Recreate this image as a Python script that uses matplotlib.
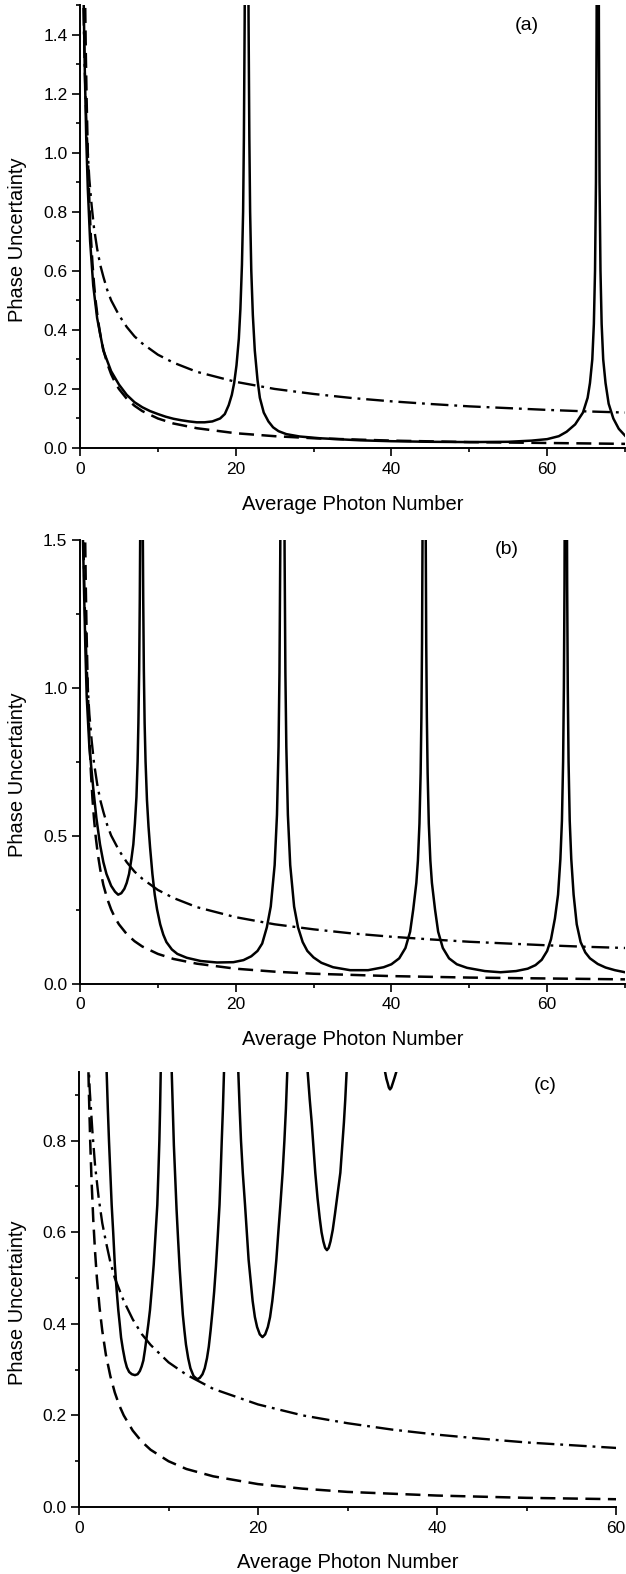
import numpy as np
import matplotlib
matplotlib.use("Agg")
import matplotlib.pyplot as plt
from matplotlib.ticker import MultipleLocator, FormatStrFormatter

plt.rcParams['font.family'] = ['Liberation Sans', 'DejaVu Sans']

# ---- data ----
# shot-noise limit (dash-dot) and Heisenberg limit (dashed), shared by all panels
sql_n = [0.45, 0.52, 0.6, 0.7, 0.8, 0.9, 1.0, 1.2, 1.5, 1.8, 2.2, 2.6, 3, 3.5, 4, 5, 6,
         7, 8, 10, 12, 15, 20, 25, 30, 35, 40, 45, 50, 55, 60, 65, 70]
sql_y = [1.49, 1.39, 1.29, 1.2, 1.12, 1.05, 1.0, 0.91, 0.82, 0.745, 0.675, 0.62, 0.58,
         0.535, 0.5, 0.45, 0.41, 0.378, 0.354, 0.316, 0.289, 0.258, 0.224, 0.2, 0.183,
         0.169, 0.158, 0.149, 0.141, 0.135, 0.129, 0.124, 0.12]
hl_n = [0.67, 0.75, 0.85, 1.0, 1.1, 1.25, 1.4, 1.6, 1.8, 2.0, 2.3, 2.6, 3, 3.5, 4, 4.5,
        5, 6, 7, 8, 10, 12, 15, 20, 25, 30, 40, 50, 60, 70]
hl_y = [1.49, 1.33, 1.18, 1.0, 0.91, 0.8, 0.714, 0.625, 0.556, 0.5, 0.435, 0.385, 0.333,
        0.286, 0.25, 0.222, 0.2, 0.167, 0.143, 0.125, 0.1, 0.083, 0.067, 0.05, 0.04,
        0.033, 0.025, 0.02, 0.017, 0.014]

# panel (a) solid curve
a_n = [0.45, 0.6, 0.8, 1.0, 1.3, 1.7, 2.2, 3, 4, 5, 6, 7, 8, 9, 10, 11, 12, 13, 14, 15,
       16, 17, 18, 18.6, 19.1, 19.5, 19.8, 20.1, 20.4, 20.6, 20.8, 20.95, 21.05, 21.15,
       21.22, 21.58, 21.65, 21.75, 21.85, 22.0, 22.2, 22.45, 22.8, 23.1, 23.6, 24.2,
       24.8, 25.5, 26.5, 28.2, 30.8, 33, 36, 40, 45, 50, 55, 58, 60, 61.5, 62.5, 63.6,
       64.6, 65.2, 65.5, 65.8, 66.0, 66.15, 66.27, 66.35, 66.4, 66.6, 66.65, 66.73, 66.85,
       67.0, 67.2, 67.5, 67.9, 68.5, 69.2, 70]
a_y = [1.55, 1.3, 1.05, 0.88, 0.7, 0.55, 0.44, 0.33, 0.26, 0.215, 0.18, 0.155, 0.138,
       0.125, 0.115, 0.106, 0.099, 0.094, 0.09, 0.087, 0.087, 0.09, 0.1, 0.115, 0.145,
       0.18, 0.22, 0.28, 0.37, 0.47, 0.62, 0.8, 1.05, 1.45, 1.9, 1.9, 1.45, 1.05, 0.8,
       0.6, 0.45, 0.33, 0.23, 0.17, 0.12, 0.09, 0.07, 0.057, 0.047, 0.039, 0.033, 0.03,
       0.026, 0.023, 0.021, 0.02, 0.021, 0.025, 0.03, 0.04, 0.055, 0.08, 0.12, 0.17, 0.22,
       0.3, 0.42, 0.6, 0.9, 1.4, 1.9, 1.9, 1.4, 0.9, 0.6, 0.42, 0.3, 0.22, 0.15, 0.1,
       0.065, 0.042]

# panel (b) solid curve
b_n = [0.3, 0.5, 0.7, 0.86, 1.2, 1.7, 2.1, 2.57, 3.0, 3.4, 4.0, 4.5, 4.9, 5.3, 5.7, 6.0,
       6.3, 6.6, 6.85, 7.05, 7.25, 7.4, 7.5, 7.6, 7.68, 7.75, 7.8,
       8.0, 8.05, 8.12, 8.2, 8.3, 8.42, 8.6, 8.8, 9.0, 9.3, 9.6, 9.9, 10.3, 10.7, 11.1,
       11.8, 12.5, 13.7, 15.5, 17.6, 19.7, 21, 22, 22.8, 23.4, 24.0, 24.5, 25.0, 25.3,
       25.5, 25.62, 25.72, 25.8,
       26.2, 26.28, 26.38, 26.5, 26.7, 27.0, 27.5, 28.0, 28.6, 29.2, 30, 31, 32.5, 34.7,
       37, 39, 40, 41, 41.8, 42.4, 42.8, 43.2, 43.4, 43.6, 43.75, 43.85, 43.93, 44.0,
       44.05,
       44.35, 44.4, 44.47, 44.55, 44.65, 44.8, 45.0, 45.2, 45.6, 46.0, 46.6, 47.4, 48.4,
       49.7, 52, 54, 56, 57.5, 58.5, 59.3, 60.0, 60.5, 61.0, 61.4, 61.7, 61.9, 62.05,
       62.15, 62.23, 62.3,
       62.5, 62.57, 62.65, 62.75, 62.9, 63.1, 63.4, 63.8, 64.3, 64.9, 65.5, 66.5, 67.5,
       68.7, 70]
b_y = [1.6, 1.35, 1.12, 0.97, 0.8, 0.66, 0.56, 0.47, 0.41, 0.37, 0.33, 0.31, 0.3, 0.305,
       0.32, 0.34, 0.37, 0.42, 0.47, 0.54, 0.63, 0.75, 0.88, 1.06, 1.3, 1.6, 2.0,
       2.0, 1.6, 1.3, 1.06, 0.88, 0.75, 0.62, 0.53, 0.46, 0.37, 0.3, 0.25, 0.2, 0.165,
       0.14, 0.115, 0.1, 0.087, 0.076, 0.071, 0.072, 0.079, 0.092, 0.11, 0.135, 0.19,
       0.26, 0.4, 0.57, 0.8, 1.05, 1.45, 2.0,
       2.0, 1.45, 1.05, 0.8, 0.57, 0.4, 0.26, 0.19, 0.14, 0.11, 0.088, 0.07, 0.055, 0.045,
       0.045, 0.055, 0.065, 0.085, 0.12, 0.175, 0.25, 0.34, 0.415, 0.54, 0.71, 0.9, 1.15,
       1.54, 2.0,
       2.0, 1.54, 1.15, 0.9, 0.71, 0.54, 0.415, 0.34, 0.25, 0.175, 0.12, 0.085, 0.065,
       0.053, 0.042, 0.038, 0.042, 0.05, 0.062, 0.08, 0.11, 0.15, 0.22, 0.3, 0.42, 0.55,
       0.75, 1.0, 1.35, 2.0,
       2.0, 1.35, 1.0, 0.75, 0.55, 0.42, 0.3, 0.2, 0.14, 0.105, 0.085, 0.066, 0.054,
       0.045, 0.038]

# panel (c) solid curve: five separate branches
c1_n = [3.0, 3.09, 3.22, 3.35, 3.5, 3.65, 3.82, 4.0, 4.2, 4.39, 4.55, 4.7, 4.9, 5.14,
        5.35, 5.6, 5.9, 6.25, 6.55, 6.8, 7.0, 7.19, 7.37, 7.55, 7.75, 7.93, 8.15, 8.35,
        8.55, 8.75, 8.87, 8.98, 9.06, 9.13, 9.2]
c1_y = [1.05, 0.95, 0.87, 0.8, 0.73, 0.66, 0.6, 0.53, 0.475, 0.43, 0.4, 0.37, 0.345,
        0.32, 0.305, 0.295, 0.29, 0.288, 0.29, 0.297, 0.307, 0.32, 0.343, 0.37, 0.4,
        0.43, 0.48, 0.53, 0.595, 0.66, 0.73, 0.8, 0.87, 0.95, 1.05]
c2_n = [10.28, 10.36, 10.48, 10.6, 10.75, 10.9, 11.07, 11.25, 11.42, 11.6, 11.78, 11.95,
        12.2, 12.45, 12.8, 13.2, 13.5, 13.8, 14.05, 14.3, 14.5, 14.7, 14.9, 15.1, 15.3,
        15.5, 15.7, 15.83, 15.95, 16.08, 16.2, 16.28]
c2_y = [1.05, 0.95, 0.87, 0.79, 0.72, 0.65, 0.585, 0.52, 0.47, 0.42, 0.385, 0.355, 0.325,
        0.303, 0.286, 0.279, 0.282, 0.29, 0.303, 0.325, 0.35, 0.385, 0.425, 0.47, 0.525,
        0.59, 0.66, 0.73, 0.8, 0.87, 0.95, 1.05]
c3_n = [17.72, 17.8, 17.95, 18.1, 18.3, 18.55, 18.75, 18.95, 19.2, 19.4, 19.65, 19.9,
        20.2, 20.5, 20.8, 21.1, 21.35, 21.6, 21.82, 22.05, 22.27, 22.5, 22.75, 22.95,
        23.12, 23.27, 23.35]
c3_y = [1.05, 0.95, 0.87, 0.8, 0.73, 0.66, 0.6, 0.54, 0.49, 0.45, 0.415, 0.393, 0.377,
        0.371, 0.377, 0.393, 0.415, 0.45, 0.49, 0.54, 0.6, 0.66, 0.73, 0.8, 0.87, 0.95,
        1.05]
c4_n = [25.48, 25.55, 25.78, 26.0, 26.2, 26.4, 26.65, 26.9, 27.1, 27.3, 27.5, 27.7, 27.9,
        28.1, 28.35, 28.6, 28.9, 29.2, 29.4, 29.6, 29.75, 29.9, 29.97]
c4_y = [1.05, 0.95, 0.89, 0.84, 0.785, 0.73, 0.675, 0.63, 0.6, 0.58, 0.566, 0.561, 0.566,
        0.58, 0.605, 0.64, 0.685, 0.73, 0.785, 0.84, 0.89, 0.95, 1.05]
c5_n = [34.1, 34.2, 34.35, 34.5, 34.62, 34.75, 34.9, 35.05, 35.25, 35.45, 35.55]
c5_y = [0.98, 0.95, 0.935, 0.925, 0.916, 0.912, 0.916, 0.925, 0.937, 0.95, 0.98]

# ---- figure ----
fig = plt.figure(figsize=(6.26, 15.74), dpi=100)

H = 1574.0
W = 626.0
def box(l, r, top, bot):
    return [l / W, 1 - bot / H, (r - l) / W, (bot - top) / H]

axa = fig.add_axes(box(80, 625, 5, 448))
axb = fig.add_axes(box(80, 625, 539.5, 983.5))
axc = fig.add_axes(box(79, 616, 1072, 1507))

lw = 1.8
axa.plot(a_n, a_y, color='black', lw=lw)
axb.plot(b_n, b_y, color='black', lw=lw)
for sn, sy in [(c1_n, c1_y), (c2_n, c2_y), (c3_n, c3_y), (c4_n, c4_y), (c5_n, c5_y)]:
    axc.plot(sn, sy, color='black', lw=lw)

for ax in (axa, axb, axc):
    ax.plot(sql_n, sql_y, color='black', lw=1.7, dashes=(7.5, 2.5, 1.2, 2.5))
    ax.plot(hl_n, hl_y, color='black', lw=lw, dashes=(6, 3))

axa.set_xlim(0, 70)
axa.set_ylim(0, 1.5)
axa.yaxis.set_major_locator(MultipleLocator(0.2))
axa.yaxis.set_minor_locator(MultipleLocator(0.1))

axb.set_xlim(0, 70)
axb.set_ylim(0, 1.5)
axb.yaxis.set_major_locator(MultipleLocator(0.5))
axb.yaxis.set_minor_locator(MultipleLocator(0.25))

axc.set_xlim(0, 60)
axc.set_ylim(0, 0.95)
axc.yaxis.set_major_locator(MultipleLocator(0.2))
axc.yaxis.set_minor_locator(MultipleLocator(0.1))

for ax, tag, tx, ty in [(axa, '(a)', 57.4, 1.43), (axb, '(b)', 54.8, 1.465),
                        (axc, '(c)', 52.1, 0.92)]:
    ax.xaxis.set_major_locator(MultipleLocator(20))
    ax.xaxis.set_minor_locator(MultipleLocator(10))
    ax.xaxis.set_major_formatter(FormatStrFormatter('%d'))
    ax.yaxis.set_major_formatter(FormatStrFormatter('%.1f'))
    ax.spines['top'].set_visible(False)
    ax.spines['right'].set_visible(False)
    ax.spines['left'].set_linewidth(1.4)
    ax.spines['bottom'].set_linewidth(1.4)
    ax.tick_params(which='major', length=5.5, width=1.2, labelsize=12.5, direction='out')
    ax.tick_params(which='minor', length=3, width=1.2, direction='out')
    ax.tick_params(axis='x', pad=4.5)
    ax.tick_params(axis='y', pad=3.5)
    ax.set_xlabel('Average Photon Number', fontsize=14.5)
    ax.set_ylabel('Phase Uncertainty', fontsize=14.5)
    ax.xaxis.set_label_coords(0.5, -0.105)
    ax.yaxis.set_label_coords(-0.097, 0.47)
    ax.text(tx, ty, tag, fontsize=14, ha='center', va='center')

fig.savefig('out.png', dpi=100)
